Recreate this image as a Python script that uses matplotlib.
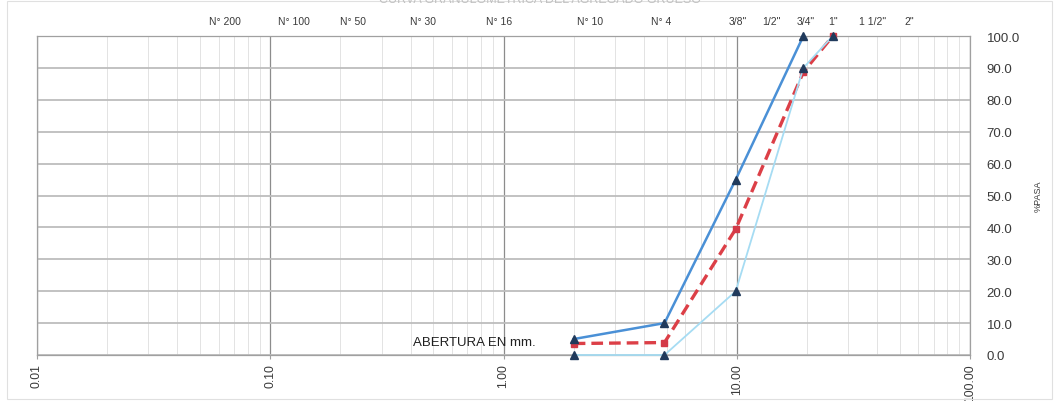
import matplotlib
matplotlib.use("Agg")
import matplotlib.pyplot as plt
from matplotlib.ticker import FixedLocator, FixedFormatter, LogLocator, NullFormatter
from matplotlib.patches import Rectangle

# ---- data ----
sieve_mm = [2.0, 4.9, 9.9, 19.3, 25.8]
upper_limit = [5.0, 10.0, 55.0, 100.0, None]
lower_limit = [0.0, 0.0, 20.0, 90.0, 100.0]
sample_pass = [3.6, 3.9, 39.5, 88.7, 100.0]

top_labels = ["N° 200", "N° 100", "N° 50", "N° 30", "N° 16", "N° 10", "N° 4",
              "3/8\"", "1/2\"", "3/4\"", "1\"", "1 1/2\"", "2\""]
top_label_pos = [0.064, 0.126, 0.227, 0.45, 0.96, 2.34, 4.72,
                 10.1, 14.1, 19.8, 25.8, 38.3, 54.7]

x_ticks = [0.01, 0.1, 1, 10, 100]
x_tick_labels = ["0.01", "0.10", "1.00", "10.00", "100.00"]
y_ticks = [0, 10, 20, 30, 40, 50, 60, 70, 80, 90, 100]

W, H = 1055, 402
fig = plt.figure(figsize=(W / 100, H / 100), dpi=100)
plt.rcParams['font.family'] = ['Liberation Sans', 'DejaVu Sans']

x0, x1 = 37, 970
y_top, y_bot = 37, 356
ax = fig.add_axes([x0 / W, (H - y_bot) / H, (x1 - x0) / W, (y_bot - y_top) / H])

ax.set_xscale('log')
ax.set_xlim(0.01, 100)
ax.set_ylim(0, 100)

# grid
ax.xaxis.set_major_locator(FixedLocator(x_ticks))
ax.xaxis.set_major_formatter(FixedFormatter(x_tick_labels))
ax.xaxis.set_minor_locator(LogLocator(base=10, subs=range(2, 10)))
ax.xaxis.set_minor_formatter(NullFormatter())
ax.set_yticks(y_ticks)
ax.set_yticklabels([f"{v:.1f}" for v in y_ticks])
ax.grid(which='major', axis='x', color='#8c8c8c', lw=0.9)
ax.grid(which='minor', axis='x', color='#e3e3e3', lw=0.7)
ax.grid(which='major', axis='y', color='#bdbdbd', lw=1.3)
ax.set_axisbelow(True)
for s in ax.spines.values():
    s.set_color('#a0a0a0')
    s.set_linewidth(0.9)

ax.yaxis.tick_right()
ax.tick_params(axis='y', which='both', length=0, pad=12, labelsize=9.5, labelcolor='#3a3a3a')
ax.tick_params(axis='x', which='major', length=3, color='#a0a0a0', pad=3,
               labelsize=8.8, labelcolor='#3a3a3a', labelrotation=90)
ax.tick_params(axis='x', which='minor', length=0)

ax.yaxis.set_label_position('right')
ax.set_ylabel('%PASA', fontsize=6.5, color='#3a3a3a', rotation=90, labelpad=10)

# series
xs_u = [x for x, v in zip(sieve_mm, upper_limit) if v is not None]
ys_u = [v for v in upper_limit if v is not None]
ax.plot(sieve_mm, sample_pass, color='#dc3f47', lw=2.4, ls=(0, (3.5, 1.8)),
        marker='s', ms=5, mfc='#d33a48', mec='#d33a48', zorder=3, clip_on=False)
ax.plot(sieve_mm, lower_limit, color='#a6dcf3', lw=1.3,
        marker='^', ms=6, mfc='#203a5c', mec='#203a5c', zorder=4, clip_on=False)
ax.plot(xs_u, ys_u, color='#4a90d6', lw=1.8,
        marker='^', ms=6, mfc='#203a5c', mec='#203a5c', zorder=5, clip_on=False)

# top sieve labels
for lab, pos in zip(top_labels, top_label_pos):
    ax.text(pos, 104.8, lab, ha='center', va='center', fontsize=7.5, color='#3a3a3a')

# opening label
ax.text(1.37, 4.0, 'ABERTURA EN mm.', ha='right', va='center', fontsize=9.5,
        color='#202020')

# cropped title at top
fig.text(0.512, 1.0, 'CURVA GRANULOMETRICA DEL AGREGADO GRUESO', ha='center', va='center',
         fontsize=9, color='#c0c0c0')

# chart border
fig.patches.append(Rectangle((7 / W, 2 / H), (W - 10) / W, (H - 4) / H,
                             transform=fig.transFigure, fill=False,
                             edgecolor='#e0e0e0', lw=0.8))

fig.savefig('out.png', dpi=100)
